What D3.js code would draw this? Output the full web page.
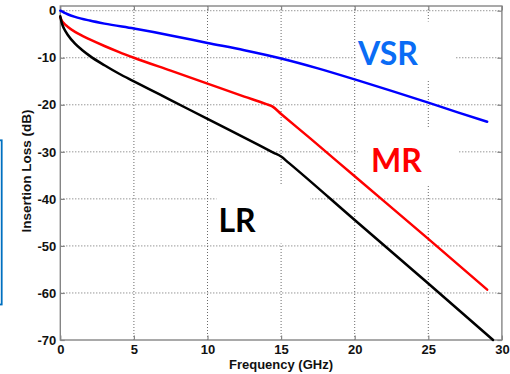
<!DOCTYPE html>
<html><head><meta charset="utf-8">
<script src="https://cdn.jsdelivr.net/npm/d3@7/dist/d3.min.js"></script>
<style>html,body{margin:0;padding:0;background:#fff;overflow:hidden}</style>
</head><body><svg id="c" width="510" height="374"></svg>
<script>
// ---- data ----
const freqVSR = [0, 0.25, 0.5, 1, 2, 3, 5, 7.5, 10, 12.5, 15, 17.5, 20, 22.5, 25, 27, 29];
const lossVSR = [0, -0.4, -0.75, -1.3, -2.1, -2.75, -3.8, -5.25, -6.85, -8.4, -10.15, -12.25, -14.6, -17.05, -19.55, -21.6, -23.6];
const freqMR  = [0, 0.1, 0.25, 0.5, 1, 1.5, 2, 3, 4, 5, 7.5, 10, 12.5, 14.0, 14.4, 15.0, 17, 20, 25, 29];
const lossMR  = [-1.4, -2.1, -2.7, -3.4, -4.5, -5.35, -6.1, -7.5, -8.8, -10.0, -12.75, -15.5, -18.25, -19.85, -20.35, -21.95, -27.2, -35.2, -48.5, -59.3];
const freqLR  = [0, 0.1, 0.25, 0.5, 1, 1.5, 2, 3, 4, 5, 6, 7.5, 10, 12.5, 14.5, 15, 15.5, 20, 25, 29.4];
const lossLR  = [-1.2, -2.6, -3.8, -5.1, -7.0, -8.4, -9.6, -11.6, -13.4, -15.0, -16.6, -19.0, -23.0, -27.0, -30.2, -31.0, -32.3, -44.5, -58.0, -70];
const seriesNames = ["VSR", "MR", "LR"];
const xTicks = [0, 5, 10, 15, 20, 25, 30];
const yTicks = [-70, -60, -50, -40, -30, -20, -10, 0];
const xTitle = "Frequency (GHz)";
const yTitle = "Insertion Loss (dB)";

const series = [
  {name: seriesNames[0], f: freqVSR, v: lossVSR, color: "#0000ff", labelColor: "#0a6cf5", lx: 358, ly: 65, box: [357, 21.5, 98, 57.5]},
  {name: seriesNames[1], f: freqMR,  v: lossMR,  color: "#ff0000", labelColor: "#ff0000", lx: 371, ly: 171.7, box: [358, 127, 100, 58]},
  {name: seriesNames[2], f: freqLR,  v: lossLR,  color: "#000000", labelColor: "#000000", lx: 218.5, ly: 231.7, box: [216.5, 186, 93.5, 57.5]}
];

const svg = d3.select("#c");
const x = d3.scaleLinear().domain([0, 30]).range([60.3, 501.9]);
const y = d3.scaleLinear().domain([-70, 1]).range([340, 6]);
const fontAx = "'Liberation Sans', Arial, Helvetica, sans-serif";
const fmt = d => String(d);

// partially visible blue box at left edge
svg.append("rect").attr("x", -20).attr("y", 140.3).attr("width", 21.7).attr("height", 164.2)
  .attr("fill", "none").attr("stroke", "#0070c0").attr("stroke-width", 1.8);

// grid
const g = svg.append("g");
g.selectAll("line.gx").data(xTicks.filter(t => t > 0 && t < 30)).join("line")
  .attr("x1", d => x(d)).attr("x2", d => x(d)).attr("y1", y(1)).attr("y2", y(-70))
  .attr("stroke", "#6a6a6a").attr("stroke-width", 1).attr("stroke-dasharray", "1,2");
g.selectAll("line.gy").data(yTicks.filter(t => t > -70)).join("line")
  .attr("y1", d => y(d)).attr("y2", d => y(d)).attr("x1", x(0)).attr("x2", x(30))
  .attr("stroke", "#6a6a6a").attr("stroke-width", 1).attr("stroke-dasharray", "1,2");

// white label backgrounds
svg.selectAll("rect.bg").data(series).join("rect")
  .attr("x", d => d.box[0]).attr("y", d => d.box[1]).attr("width", d => d.box[2]).attr("height", d => d.box[3])
  .attr("fill", "#fff");

// frame
svg.append("rect").attr("x", x(0)).attr("y", y(1)).attr("width", x(30) - x(0)).attr("height", y(-70) - y(1))
  .attr("fill", "none").attr("stroke", "#858585").attr("stroke-width", 1.4);

// axes (inside ticks)
const ax = svg.append("g").attr("transform", `translate(0,${y(-70)})`)
  .call(d3.axisBottom(x).tickValues(xTicks).tickFormat(fmt).tickSizeInner(-4.5).tickSizeOuter(0).tickPadding(5));
const ay = svg.append("g").attr("transform", `translate(${x(0)},0)`)
  .call(d3.axisLeft(y).tickValues(yTicks).tickFormat(fmt).tickSizeInner(-4.5).tickSizeOuter(0).tickPadding(4));
const axT = svg.append("g").attr("transform", `translate(0,${y(1)})`)
  .call(d3.axisTop(x).tickValues(xTicks).tickSizeInner(-4.5).tickSizeOuter(0).tickFormat(""));
const ayR = svg.append("g").attr("transform", `translate(${x(30)},0)`)
  .call(d3.axisRight(y).tickValues(yTicks).tickSizeInner(-4.5).tickSizeOuter(0).tickFormat(""));
[ax, ay, axT, ayR].forEach(a => {
  a.select(".domain").remove();
  a.selectAll(".tick line").attr("stroke", "#858585").attr("stroke-width", 1.2);
  a.selectAll("text").attr("font-family", fontAx).attr("font-size", 13).attr("font-weight", "bold").attr("fill", "#111");
});

// curves
const line = d3.line().x(d => x(d[0])).y(d => y(d[1])).curve(d3.curveMonotoneX);
svg.selectAll("path.s").data(series).join("path")
  .attr("d", d => line(d.f.map((f, i) => [f, d.v[i]])))
  .attr("fill", "none").attr("stroke", d => d.color).attr("stroke-width", 2.5)
  .attr("stroke-linejoin", "round").attr("stroke-linecap", "round");

// series labels
svg.selectAll("text.lab").data(series).join("text")
  .attr("x", d => d.lx).attr("y", d => d.ly).text(d => d.name)
  .attr("fill", d => d.labelColor).attr("font-family", "Lato, 'Open Sans', sans-serif")
  .attr("font-weight", "bold").attr("font-size", 32);

// axis titles
svg.append("text").attr("x", 281).attr("y", 369).attr("text-anchor", "middle")
  .attr("font-family", fontAx).attr("font-weight", "bold").attr("font-size", 13).attr("fill", "#111").text(xTitle);
svg.append("text").attr("transform", "translate(30.5,171) rotate(-90)").attr("text-anchor", "middle")
  .attr("font-family", fontAx).attr("font-weight", "bold").attr("font-size", 13.5).attr("fill", "#111").text(yTitle);
</script></body></html>
